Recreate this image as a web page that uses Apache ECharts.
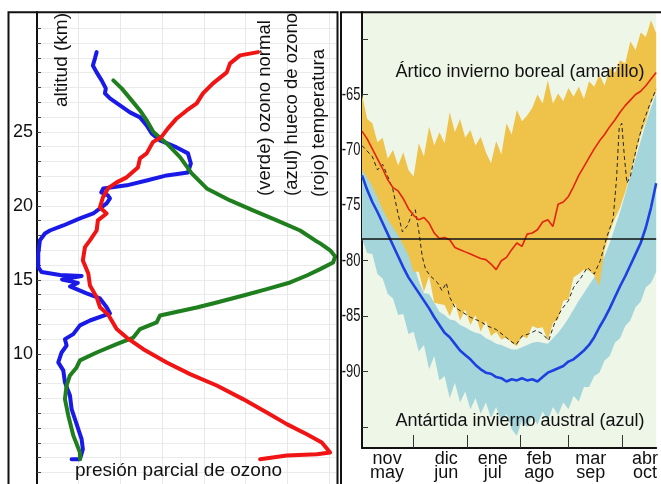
<!DOCTYPE html>
<html>
<head>
<meta charset="utf-8">
<script src="https://cdn.jsdelivr.net/npm/echarts@6/dist/echarts.min.js"></script>
<style>
  html, body { margin: 0; padding: 0; background: #ffffff; overflow: hidden; }
  /* the drawing runs a little past the bottom of the window, like a cropped figure */
  #chart { width: 661px; height: 520px; }
</style>
</head>
<body>
<div id="chart"></div>
<script>
// ---- Left panel: ozone sounding profiles (x = partial pressure, y = altitude km) ----
const holeOzone = [1.43,1.39,1.34,1.43,1.55,1.65,1.63,1.75,1.99,2.23,2.47,2.63,2.75,2.95,3.35,3.62,3.69,3.62,3.11,2.63,2.15,1.59,1.54,1.70,1.75,1.67,1.51,1.35,1.03,0.63,0.31,0.19,0.07,0.03,0.03,0.11,0.55,1.07,0.60,0.98,0.79,1.19,1.51,1.67,1.75,1.27,1.03,0.87,0.67,0.71,0.59,0.51,0.63,0.67,0.79,0.83,0.95,1.07,1.10,1.03,0.83];
const holeAlt   = [30.39,29.97,29.49,29.02,28.48,27.94,27.60,27.26,26.79,26.32,25.98,25.44,24.90,24.43,23.95,23.55,22.87,22.26,22.06,21.72,21.39,21.18,20.91,20.71,20.51,20.17,19.83,19.49,19.16,18.68,18.34,18.14,17.68,16.79,15.86,15.53,15.34,15.27,15.03,14.80,14.56,14.09,13.75,13.16,12.74,12.26,11.93,11.34,11.00,10.57,10.10,9.43,8.89,8.08,7.20,6.27,5.26,4.24,3.57,2.89,2.89];

const normalOzone = [1.83,2.03,2.27,2.47,2.63,2.79,3.11,3.43,3.71,4.07,4.63,5.18,5.75,6.31,6.67,6.79,7.03,7.15,7.10,6.79,6.47,6.07,5.51,4.95,4.31,3.83,2.95,2.87,2.47,2.31,1.91,1.43,1.03,0.95,0.79,0.71,0.67,0.75,0.87,1.03,1.03];
const normalAlt   = [28.48,27.94,27.13,26.45,25.78,24.99,24.22,23.30,22.20,21.18,20.37,19.70,19.02,18.34,17.67,17.47,17.00,16.59,16.18,15.73,15.30,14.83,14.38,13.95,13.48,13.14,12.60,12.13,11.68,11.11,10.66,10.10,9.57,9.09,8.55,7.88,6.95,5.85,4.50,3.34,2.89];

const tempProfile = [5.30,4.87,4.63,4.55,4.22,3.98,3.83,3.59,3.35,3.14,2.98,2.78,2.63,2.47,2.42,2.15,1.91,1.70,1.58,1.51,1.67,1.46,1.43,1.27,1.15,1.10,1.23,1.27,1.43,1.51,1.70,1.79,1.91,2.15,2.55,3.11,3.67,4.31,4.94,5.51,5.99,6.47,6.83,7.03,6.71,5.99,5.35];
const tempAlt     = [30.39,30.17,29.63,29.02,28.28,27.60,26.93,26.45,25.91,25.24,24.65,24.31,23.55,23.21,22.60,21.93,21.59,21.18,20.57,19.90,19.49,19.02,18.34,17.67,17.22,16.32,15.44,14.63,13.84,13.16,12.69,12.26,11.68,11.11,10.32,9.42,8.64,7.87,6.95,6.05,5.26,4.58,4.02,3.34,3.23,3.14,2.89];

const altTicks  = [2,3,4,5,6,7,8,9,10,11,12,13,14,15,16,17,18,19,20,21,22,23,24,25,26,27,28,29,30,31,32];
const altLabels = [10,15,20,25];

// ---- Right panel: polar stratosphere minimum temperatures by day of winter ----
const days = [0,3,6,9,12,15,18,21,24,27,30,33,36,39,42,45,48,51,54,57,60,63,66,69,72,75,78,81,84,87,90,93,96,99,102,105,108,111,114,117,120,123,126,129,132,135,138,141,144,147,150,153,156,159,162,165,168,171];

const arcticMax = [-65.0,-67.2,-67.6,-69.3,-68.9,-70.8,-70.0,-71.4,-70.2,-71.8,-72.4,
  -69.4,-70.6,-67.9,-69.6,-68.4,-69.4,-66.6,-68.4,-67.2,-68.9,-68.2,
  -69.6,-68.8,-70.2,-71.2,-69.2,-70.4,-67.6,-68.6,-66.4,-67.4,-66.9,
  -66.2,-65.0,-65.8,-63.7,-65.8,-64.9,-65.6,-64.4,-65.2,-64.3,-65.4,
  -63.8,-64.3,-63.2,-64.2,-62.6,-63.0,-61.9,-62.2,-60.2,-61.0,-59.4,
  -59.8,-58.3,-59.5];
const arcticMin = [-71.8,-72.5,-73.3,-74.3,-75.4,-76.3,-77.0,-77.7,-78.6,-79.5,-81.0,
  -81.0,-82.8,-81.4,-83.8,-83.9,-84.0,-85.0,-83.8,-85.4,-84.4,-85.8,
  -84.9,-86.4,-85.4,-86.8,-86.4,-87.1,-86.9,-87.4,-87.7,-86.8,-87.0,
  -85.9,-86.1,-86.0,-87.2,-85.6,-85.3,-83.6,-83.5,-81.5,-81.2,-80.8,
  -80.9,-81.3,-82.3,-79.0,-77.4,-76.2,-75.2,-73.8,-72.2,-70.5,-68.6,
  -67.4,-65.8,-64.8];
const arcticMean = [-68.3,-69.0,-69.9,-70.8,-71.7,-72.7,-73.4,-73.7,-74.4,-75.3,-75.9,
  -76.3,-76.1,-76.6,-77.5,-78.0,-77.9,-78.1,-78.8,-79.0,-79.2,-79.4,
  -79.6,-79.8,-79.9,-80.3,-80.8,-80.0,-79.7,-79.0,-78.4,-78.7,-77.6,
  -77.5,-77.2,-76.5,-76.3,-76.9,-74.9,-74.7,-74.2,-73.3,-72.3,-71.5,
  -70.7,-69.9,-69.2,-68.6,-67.9,-67.3,-66.6,-66.0,-65.5,-65.0,-64.7,
  -64.2,-63.6,-63.0];

const antarcticMax = [-71.3,-72.0,-72.8,-73.8,-74.9,-75.8,-76.5,-77.2,-78.1,-79.0,-80.3,
  -81.8,-82.9,-83.0,-83.8,-84.6,-84.9,-85.3,-85.4,-85.8,-86.0,-86.3,
  -86.5,-86.6,-87.0,-87.2,-87.5,-87.6,-87.8,-88.0,-88.0,-87.8,-87.6,
  -87.4,-87.3,-87.4,-87.5,-87.0,-86.5,-85.9,-85.2,-84.4,-83.6,-82.9,
  -82.2,-81.5,-80.6,-79.6,-78.4,-77.0,-75.6,-74.0,-72.4,-70.8,-69.2,
  -67.6,-66.2,-64.9];
const antarcticMin = [-78.0,-79.3,-79.4,-81.2,-81.6,-83.0,-83.4,-84.9,-84.8,-86.6,-86.4,
  -88.2,-87.6,-89.8,-88.6,-90.8,-90.4,-92.4,-91.0,-92.8,-91.8,-93.4,
  -92.4,-93.8,-92.8,-94.2,-93.2,-94.6,-93.8,-95.2,-95.8,-94.4,-95.0,
  -94.0,-94.8,-93.6,-94.4,-93.2,-93.9,-92.8,-93.4,-92.2,-92.7,-91.4,
  -91.4,-90.4,-90.1,-89.0,-88.6,-87.4,-87.0,-85.9,-85.4,-84.2,-83.7,
  -82.4,-82.0,-81.0];
const antarcticMean = [-72.3,-73.6,-74.7,-75.6,-76.6,-77.6,-78.6,-79.6,-80.6,-81.5,-82.2,
  -82.9,-83.6,-84.3,-85.1,-85.8,-86.5,-86.9,-87.5,-88.1,-88.5,-88.9,
  -89.4,-89.8,-90.1,-90.2,-90.5,-90.6,-90.9,-90.7,-90.8,-90.6,-90.8,
  -90.7,-90.9,-90.5,-90.1,-89.9,-89.7,-89.5,-89.1,-88.9,-88.5,-88.1,
  -87.6,-86.9,-86.0,-85.2,-84.3,-83.3,-82.3,-81.4,-80.4,-79.4,-78.4,
  -77.0,-75.2,-73.0];

// single Arctic winter (dashed)
const winterDays  = [0,3,6,9,12,15,18,21,23.5,26.5,29,31,33,35,37,40,44,46.5,49,51,54,58,63,69,73,78,82,86,89.5,93,97,101,105,108.5,112,116,120,123,127,131,135,138.5,142,146,148,149.5,151,152.5,154,156,158,160,163.5,167,171];
const winterTemps = [-69.6,-70.1,-70.6,-71.8,-71.3,-72.4,-73.6,-75.8,-77.4,-76.8,-75.8,-75.4,-77.3,-79.6,-80.8,-81.4,-82.0,-82.7,-82.0,-83.3,-84.2,-84.6,-85.1,-85.5,-85.9,-86.2,-86.7,-87.2,-87.6,-86.8,-86.6,-86.3,-86.6,-87.2,-85.6,-84.4,-83.6,-82.4,-81.6,-80.6,-81.2,-80.0,-78.0,-76.2,-72.5,-68.0,-67.6,-70.6,-73.0,-72.4,-70.9,-69.5,-67.5,-66.0,-64.5];

const pscThreshold = -78;

const tempTicks  = [-95,-90,-85,-80,-75,-70,-65,-60];
const tempLabels = [-90,-85,-80,-75,-70,-65];

const monthStartDays = [30,61,92,120,151];
const monthLabelDays = [14.6,49,76,103,133,164.5];
const monthLabels = ['nov\nmay','dic\njun','ene\njul','feb\nago','mar\nsep','abr\noct'];

// ---- helpers ----
const pairs = (xs, ys) => xs.map((x, i) => [x, ys[i]]);
const SANS = '"Liberation Sans", Arial, sans-serif';

const chart = echarts.init(document.getElementById('chart'), null, { renderer: 'canvas' });

// min–max envelope drawn as one polygon through the axis scales
const band = (name, hi, lo, color) => ({
  name, type: 'custom', xAxisIndex: 1, yAxisIndex: 1, silent: true,
  data: [[days[0], hi[0]]],
  encode: { x: 0, y: 1 },
  renderItem: (params, api) => {
    const upper = days.map((d, i) => api.coord([d, hi[i]]));
    const lower = days.map((d, i) => api.coord([d, lo[i]])).reverse();
    return { type: 'polygon', shape: { points: upper.concat(lower) }, style: { fill: color } };
  }
});

// condensed temperature tick labels beside the right-hand axis
const tempLabelSeries = {
  name: 'tempLabels', type: 'custom', xAxisIndex: 1, yAxisIndex: 1, silent: true, clip: false,
  data: tempLabels.map(v => [0, v]),
  encode: { x: 0, y: 1 },
  renderItem: (params, api) => {
    const p = api.coord([0, api.value(1)]);
    return {
      type: 'text', x: p[0] - 1.5, y: p[1], scaleX: 0.72, z2: 10,
      style: { text: String(api.value(1)), font: '18px ' + SANS, fill: '#111',
               align: 'right', verticalAlign: 'middle' }
    };
  }
};

const option = {
  animation: false,
  backgroundColor: '#ffffff',
  grid: [
    { left: 37, top: 12, width: 300, height: 490 },
    { left: 362, top: 12, width: 299, height: 436, show: true, backgroundColor: '#eef6e8', borderWidth: 0 }
  ],
  xAxis: [
    {
      gridIndex: 0, type: 'value', min: 0, max: 7.194, interval: 1,
      axisLine: { show: false }, axisTick: { show: false }, axisLabel: { show: false },
      splitLine: { show: true, lineStyle: { color: '#e8e8e8', width: 1 } }
    },
    {
      gridIndex: 1, type: 'value', min: 0, max: 171,
      axisLine: { show: true, onZero: false, lineStyle: { color: '#111', width: 2 } },
      axisTick: { show: true, inside: true, length: 13, customValues: monthStartDays, lineStyle: { color: '#333', width: 1 } },
      axisLabel: {
        show: true, customValues: monthLabelDays, margin: 4,
        fontFamily: SANS, fontSize: 18, lineHeight: 14, color: '#111',
        formatter: (v) => {
          let best = 0;
          monthLabelDays.forEach((d, i) => { if (Math.abs(d - v) < Math.abs(monthLabelDays[best] - v)) best = i; });
          return monthLabels[best];
        }
      },
      splitLine: { show: false }
    }
  ],
  yAxis: [
    {
      gridIndex: 0, type: 'value', min: 0, max: 33.1, interval: 5,
      axisLine: { show: true, onZero: false, lineStyle: { color: '#111', width: 2 } },
      axisTick: { show: true, inside: true, length: 4, customValues: altTicks, lineStyle: { color: '#444', width: 1 } },
      axisLabel: { show: true, customValues: altLabels, margin: 4, fontFamily: SANS, fontSize: 18, color: '#111' },
      splitLine: { show: true, lineStyle: { color: '#ebebeb', width: 1 } }
    },
    {
      gridIndex: 1, type: 'value', min: -96.9, max: -57.55,
      axisLine: { show: true, onZero: false, lineStyle: { color: '#111', width: 2 } },
      axisTick: { show: true, inside: true, length: 6, customValues: tempTicks, lineStyle: { color: '#333', width: 1 } },
      axisLabel: { show: false },
      splitLine: { show: false }
    }
  ],
  series: [
    // ozone profiles
    { name: 'hueco', type: 'line', xAxisIndex: 0, yAxisIndex: 0, data: pairs(holeOzone, holeAlt), symbol: 'none',
      lineStyle: { color: '#1a1ae8', width: 4, join: 'round', cap: 'round' } },
    { name: 'normal', type: 'line', xAxisIndex: 0, yAxisIndex: 0, data: pairs(normalOzone, normalAlt), symbol: 'none',
      lineStyle: { color: '#1f7f1f', width: 4, join: 'round', cap: 'round' } },
    { name: 'temperatura', type: 'line', xAxisIndex: 0, yAxisIndex: 0, data: pairs(tempProfile, tempAlt), symbol: 'none',
      lineStyle: { color: '#f01414', width: 4, join: 'round', cap: 'round' } },

    // Antarctic range (blue) under Arctic range (yellow)
    band('antRange', antarcticMax, antarcticMin, '#a4d5da'),
    band('arcRange', arcticMax, arcticMin, '#efc24a'),

    // single winter, dashed, with the -78 °C threshold
    { name: 'winter', type: 'line', xAxisIndex: 1, yAxisIndex: 1, data: pairs(winterDays, winterTemps), symbol: 'none',
      lineStyle: { color: '#222', width: 1, type: [4, 3] },
      markLine: {
        silent: true, symbol: 'none', label: { show: false },
        lineStyle: { color: '#111', width: 1.5, type: 'solid' },
        data: [{ yAxis: pscThreshold }]
      } },
    // means
    { name: 'antMean', type: 'line', xAxisIndex: 1, yAxisIndex: 1, data: pairs(days, antarcticMean), symbol: 'none',
      lineStyle: { color: '#1d40e0', width: 2.6 } },
    { name: 'arcMean', type: 'line', xAxisIndex: 1, yAxisIndex: 1, data: pairs(days, arcticMean), symbol: 'none',
      lineStyle: { color: '#e2240e', width: 1.6 } },

    tempLabelSeries
  ],
  graphic: [
    { type: 'rect', z: 50, shape: { x: 8.5, y: 12.3, width: 329, height: 520 },
      style: { fill: null, stroke: '#111', lineWidth: 2 } },
    { type: 'rect', z: 50, shape: { x: 341, y: 12.3, width: 400, height: 520 },
      style: { fill: null, stroke: '#111', lineWidth: 2 } },

    { type: 'text', z: 60, x: 62, y: 13, rotation: Math.PI / 2,
      style: { text: 'altitud (km)', font: '19px ' + SANS, fill: '#111', textAlign: 'right', align: 'right', textVerticalAlign: 'middle', verticalAlign: 'middle' } },
    { type: 'text', z: 60, x: 264.5, y: 196, rotation: Math.PI / 2,
      style: { text: '(verde) ozono normal', font: '18.5px ' + SANS, fill: '#111', textAlign: 'left', align: 'left', textVerticalAlign: 'middle', verticalAlign: 'middle' } },
    { type: 'text', z: 60, x: 291.5, y: 196, rotation: Math.PI / 2,
      style: { text: '(azul) hueco de ozono', font: '18.5px ' + SANS, fill: '#111', textAlign: 'left', align: 'left', textVerticalAlign: 'middle', verticalAlign: 'middle' } },
    { type: 'text', z: 60, x: 319, y: 197, rotation: Math.PI / 2,
      style: { text: '(rojo) temperatura', font: '18.5px ' + SANS, fill: '#111', textAlign: 'left', align: 'left', textVerticalAlign: 'middle', verticalAlign: 'middle' } },
    { type: 'text', z: 60, x: 178.5, y: 470.5,
      style: { text: 'presión parcial de ozono', font: '19px ' + SANS, fill: '#111', textAlign: 'center', align: 'center', textVerticalAlign: 'middle', verticalAlign: 'middle' } },

    { type: 'text', z: 60, x: 520, y: 72,
      style: { text: 'Ártico invierno boreal (amarillo)', font: '18px ' + SANS, fill: '#111', textAlign: 'center', align: 'center', textVerticalAlign: 'middle', verticalAlign: 'middle' } },
    { type: 'text', z: 60, x: 520, y: 421,
      style: { text: 'Antártida invierno austral (azul)', font: '18px ' + SANS, fill: '#111', textAlign: 'center', align: 'center', textVerticalAlign: 'middle', verticalAlign: 'middle' } }
  ]
};

chart.setOption(option);
</script>
</body>
</html>
